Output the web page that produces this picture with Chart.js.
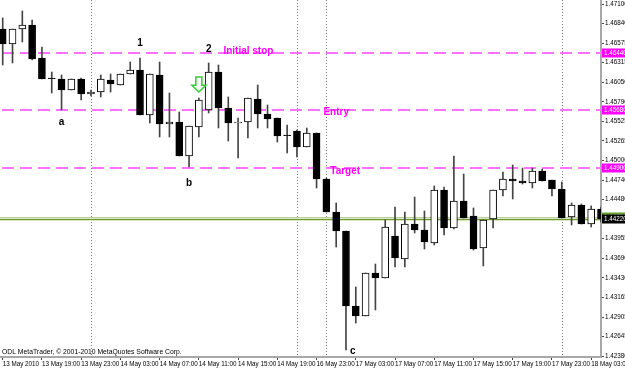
<!DOCTYPE html>
<html>
<head>
<meta charset="utf-8">
<script src="https://cdn.jsdelivr.net/npm/chart.js@4.4.0/dist/chart.umd.min.js"></script>
<style>
  html, body { margin: 0; padding: 0; background: #fff; }
</style>
</head>
<body>
<canvas id="chart" width="625" height="370"></canvas>
<script>
// hourly bars, 13 May 15:00 -> 18 May 04:00 (2010)
const opens = [1.46765, 1.46564, 1.46765, 1.46819, 1.46377, 1.46109, 1.46095, 1.45948, 1.46095, 1.45894,
  1.45921, 1.46082, 1.46015, 1.46162, 1.46216, 1.45613, 1.46149, 1.45492, 1.45519, 1.45064,
  1.45452, 1.45680, 1.46189, 1.45707, 1.45506, 1.45519, 1.45827, 1.45626, 1.45573, 1.45345,
  1.45399, 1.45184, 1.45372, 1.44755, 1.44313, 1.44058, 1.43054, 1.42920, 1.43496, 1.43429,
  1.43992, 1.43683, 1.44152, 1.44072, 1.43898, 1.44608, 1.44099, 1.44461, 1.44260, 1.43831,
  1.44220, 1.44608, 1.44755, 1.44729, 1.44702, 1.44861, 1.44742, 1.44621, 1.44246, 1.44407,
  1.44152, 1.44353];
const highs = [1.46913, 1.46765, 1.47007, 1.46886, 1.46524, 1.46189, 1.46149, 1.46095, 1.46109, 1.45948,
  1.46149, 1.46162, 1.46162, 1.46323, 1.46377, 1.46162, 1.46323, 1.45908, 1.45653, 1.45466,
  1.45841, 1.46310, 1.46283, 1.45854, 1.45573, 1.45841, 1.46015, 1.45747, 1.45573, 1.45479,
  1.45412, 1.45439, 1.45372, 1.44769, 1.44434, 1.44058, 1.43308, 1.43496, 1.43616, 1.44206,
  1.44380, 1.44313, 1.44514, 1.44327, 1.44662, 1.44648, 1.45064, 1.44822, 1.44367, 1.44206,
  1.44608, 1.44848, 1.44943, 1.44902, 1.44902, 1.44888, 1.44742, 1.44715, 1.44434, 1.44420,
  1.44394, 1.44380];
const lows = [1.46283, 1.46310, 1.46591, 1.46350, 1.46095, 1.45908, 1.45680, 1.45948, 1.45814, 1.45868,
  1.45854, 1.45921, 1.46015, 1.46162, 1.45613, 1.45506, 1.45318, 1.45318, 1.45064, 1.44916,
  1.45318, 1.45640, 1.45439, 1.45265, 1.45037, 1.45305, 1.45439, 1.45439, 1.45251, 1.45104,
  1.45050, 1.45184, 1.44635, 1.44313, 1.43844, 1.42464, 1.42826, 1.42920, 1.43000, 1.43429,
  1.43576, 1.43576, 1.44032, 1.43817, 1.43871, 1.44005, 1.44085, 1.44233, 1.43804, 1.43590,
  1.44099, 1.44528, 1.44488, 1.44688, 1.44635, 1.44729, 1.44528, 1.44233, 1.44139, 1.44152,
  1.44112, 1.44179];
const closes = [1.46564, 1.46765, 1.46819, 1.46363, 1.46095, 1.46100, 1.45948, 1.46095, 1.45894, 1.45921,
  1.46095, 1.46028, 1.46162, 1.46216, 1.45613, 1.46162, 1.45492, 1.45519, 1.45064, 1.45466,
  1.45814, 1.46189, 1.45707, 1.45506, 1.45519, 1.45841, 1.45626, 1.45559, 1.45332, 1.45335,
  1.45184, 1.45372, 1.44755, 1.44313, 1.44058, 1.43054, 1.42920, 1.43496, 1.43429, 1.44112,
  1.43697, 1.44152, 1.44072, 1.43911, 1.44608, 1.44099, 1.44461, 1.44233, 1.43817, 1.44206,
  1.44608, 1.44755, 1.44729, 1.44702, 1.44861, 1.44729, 1.44621, 1.44233, 1.44407, 1.44152,
  1.44353, 1.44220];

// one time label every 4 bars
const timeLabels = ["13 May 2010", "13 May 19:00", "13 May 23:00", "14 May 03:00", "14 May 07:00",
  "14 May 11:00", "14 May 15:00", "14 May 19:00", "16 May 23:00", "17 May 03:00", "17 May 07:00",
  "17 May 11:00", "17 May 15:00", "17 May 19:00", "17 May 23:00", "18 May 03:00"];
const priceTicks = [1.47100, 1.46840, 1.46575, 1.46315, 1.46050, 1.45790, 1.45525, 1.45265, 1.45000,
  1.44740, 1.44480, 1.43955, 1.43690, 1.43430, 1.43165, 1.42905, 1.42645, 1.42380];

// day separators (bar index of first bar of a new day)
const dayStarts = [9, 30, 33, 57];

// trade levels
const levelNames = ["Initial stop", "Entry", "Target"];
const levelPrices = [1.46440, 1.45680, 1.44900];
const bidPrice = 1.44220;
const askPrice = 1.44250;

// notes: text, bar, price
const notes = [
  ["1", 14, 1.46578], ["2", 21, 1.46497], ["a", 6, 1.45519],
  ["b", 19, 1.44702], ["c", 35.7, 1.42451]
];
const levelTextAt = [[22.5, 1.46465], [32.7, 1.45653], [33.4, 1.44862]];
const arrowAt = [20, 1.46122, 1.45921];

const FONT = "'Liberation Sans', Arial, sans-serif";

const bodies = opens.map((o, i) => ({ x: i, y: [o, closes[i]] }));
const wicks = lows.map((l, i) => ({ x: i, y: [l, highs[i]] }));
const bodyColors = opens.map((o, i) => closes[i] > o ? "#ffffff" : "#000000");

const overlay = {
  id: "overlay",
  beforeDatasetsDraw(chart) {
    const { ctx, chartArea: a, scales: { x, y } } = chart;
    ctx.save();
    // dotted day separators
    ctx.strokeStyle = "#7f7f7f";
    ctx.lineWidth = 1;
    ctx.setLineDash([1, 2]);
    dayStarts.forEach(b => {
      const px = Math.round(x.getPixelForValue(b)) + 0.5;
      ctx.beginPath(); ctx.moveTo(px, a.top); ctx.lineTo(px, a.bottom); ctx.stroke();
    });
    // dashed trade levels
    ctx.strokeStyle = "#ff72ff";
    ctx.lineWidth = 2;
    ctx.setLineDash([12, 6]);
    levelPrices.forEach(p => {
      const py = Math.round(y.getPixelForValue(p));
      ctx.beginPath(); ctx.moveTo(a.left + 2, py); ctx.lineTo(a.right, py); ctx.stroke();
    });
    // ask / bid lines
    ctx.setLineDash([]);
    ctx.lineWidth = 1;
    ctx.strokeStyle = "#bccf98";
    let py = Math.round(y.getPixelForValue(askPrice)) + 0.5;
    ctx.beginPath(); ctx.moveTo(a.left, py); ctx.lineTo(a.right, py); ctx.stroke();
    ctx.strokeStyle = "#6f9a2a";
    ctx.lineWidth = 1.5;
    py = y.getPixelForValue(bidPrice) + 0.5;
    ctx.beginPath(); ctx.moveTo(a.left, py); ctx.lineTo(a.right, py); ctx.stroke();
    ctx.restore();
  },
  afterDatasetsDraw(chart) {
    const { ctx, chartArea: a, scales: { x, y } } = chart;
    ctx.save();
    ctx.textBaseline = "middle";
    // level names
    ctx.fillStyle = "#ff00ff";
    ctx.font = "bold 10px " + FONT;
    ctx.textAlign = "left";
    levelNames.forEach((t, i) => {
      ctx.fillText(t, x.getPixelForValue(levelTextAt[i][0]), y.getPixelForValue(levelTextAt[i][1]));
    });
    // swing notes
    ctx.fillStyle = "#000";
    ctx.font = "bold 10px " + FONT;
    ctx.textAlign = "center";
    notes.forEach(n => ctx.fillText(n[0], x.getPixelForValue(n[1]), y.getPixelForValue(n[2])));
    // green down arrow
    const ax = x.getPixelForValue(arrowAt[0]);
    const top = y.getPixelForValue(arrowAt[1]);
    const tip = y.getPixelForValue(arrowAt[2]);
    const mid = top + (tip - top) * 0.55;
    ctx.beginPath();
    ctx.moveTo(ax - 3, top); ctx.lineTo(ax + 3, top); ctx.lineTo(ax + 3, mid);
    ctx.lineTo(ax + 7, mid); ctx.lineTo(ax, tip); ctx.lineTo(ax - 7, mid);
    ctx.lineTo(ax - 3, mid); ctx.closePath();
    ctx.fillStyle = "#fff";
    ctx.fill();
    ctx.strokeStyle = "#33cc33";
    ctx.lineWidth = 1.5;
    ctx.stroke();
    // copyright
    ctx.fillStyle = "#000";
    ctx.font = "6.8px " + FONT;
    ctx.textAlign = "left";
    ctx.fillText("ODL MetaTrader, \u00a9 2001-2010 MetaQuotes Software Corp.", a.left + 2, a.bottom - 5);
    ctx.restore();
  },
  afterDraw(chart) {
    const { ctx, chartArea: a, scales: { y } } = chart;
    ctx.save();
    ctx.font = "6.3px " + FONT;
    ctx.textBaseline = "middle";
    ctx.textAlign = "left";
    const box = (p, bg) => {
      const py = Math.round(y.getPixelForValue(p));
      ctx.fillStyle = bg;
      ctx.fillRect(a.right + 1, py - 4.5, 30, 9);
      ctx.fillStyle = "#fff";
      ctx.fillText(p.toFixed(5), a.right + 3, py);
    };
    levelPrices.forEach(p => box(p, "#ff00ff"));
    box(askPrice, "#5f9f2a");
    box(bidPrice, "#000000");
    ctx.restore();
  }
};

new Chart(document.getElementById("chart"), {
  type: "bar",
  data: {
    datasets: [
      {
        data: bodies,
        backgroundColor: bodyColors,
        borderColor: "#000",
        borderWidth: 1,
        borderSkipped: false,
        barThickness: 7,
        grouped: false,
        order: 1
      },
      {
        data: wicks,
        backgroundColor: "#444",
        borderWidth: 0,
        barThickness: 1,
        grouped: false,
        order: 2
      }
    ]
  },
  options: {
    responsive: false,
    animation: false,
    layout: { padding: 0 },
    plugins: { legend: { display: false }, tooltip: { enabled: false } },
    scales: {
      x: {
        type: "linear",
        offset: false,
        min: -0.275,
        max: 61.0,
        grid: { offset: false, drawOnChartArea: false, tickLength: 3, color: "#444" },
        border: { color: "#a8a8a8", width: 2 },
        ticks: {
          align: "start",
          autoSkip: false,
          maxRotation: 0,
          padding: 0,
          color: "#000",
          font: { family: FONT, size: 6.3 },
          callback: (v, i) => timeLabels[i]
        },
        afterBuildTicks: s => { s.ticks = timeLabels.map((t, i) => ({ value: i * 4 })); },
        afterFit: s => { s.height = 13; s.paddingLeft = 0; s.paddingRight = 0; }
      },
      y: {
        type: "linear",
        position: "right",
        beginAtZero: false,
        min: 1.42370,
        max: 1.47154,
        grid: { drawOnChartArea: false, tickLength: 3, color: "#444" },
        border: { color: "#a8a8a8", width: 2 },
        ticks: {
          padding: 1,
          color: "#000",
          font: { family: FONT, size: 6.3 },
          callback: v => v.toFixed(5)
        },
        afterBuildTicks: s => { s.ticks = priceTicks.map(v => ({ value: v })); },
        afterFit: s => { s.width = 24; s.paddingTop = 0; s.paddingBottom = 0; }
      }
    }
  },
  plugins: [overlay]
});
</script>
</body>
</html>
